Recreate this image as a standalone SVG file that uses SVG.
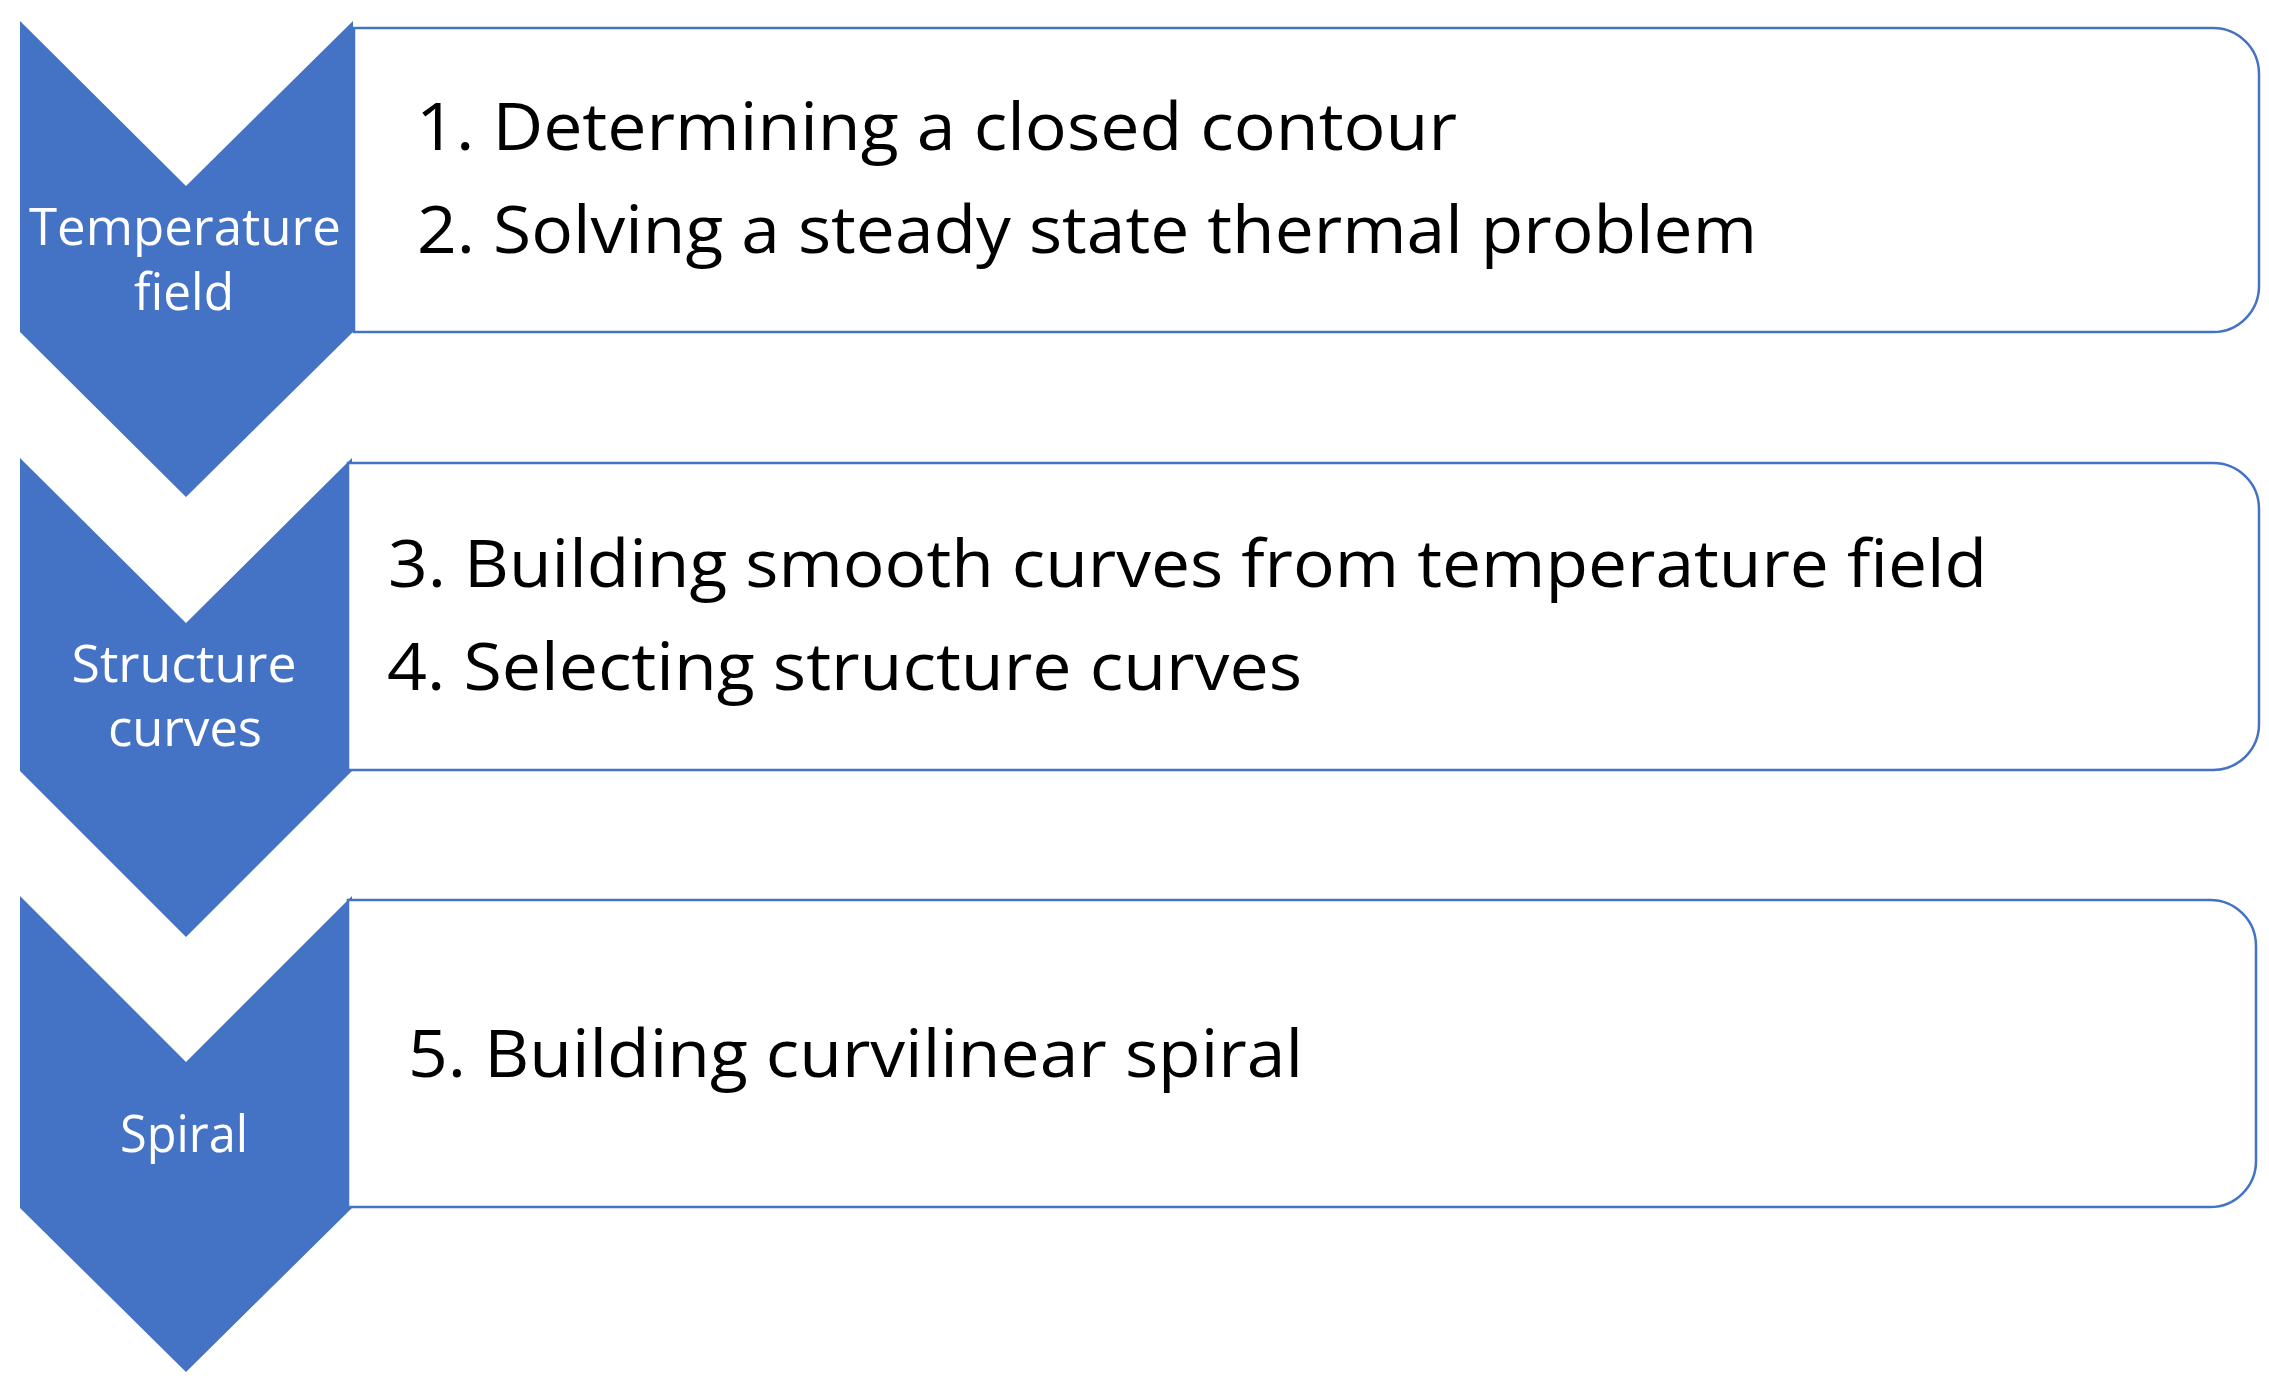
<svg xmlns="http://www.w3.org/2000/svg" width="2269" height="1390" viewBox="0 0 2269 1390">
<style>
.chev{fill:#4472C4;}
.box{fill:#FFFFFF;stroke:#4472C4;stroke-width:2.5;}
.lbl{font-family:"Open Sans","Liberation Sans",sans-serif;font-size:52px;fill:#FFFFFF;text-anchor:middle;}
.txt{font-family:"Open Sans","Liberation Sans",sans-serif;font-size:65px;fill:#000000;}
</style>
<rect x="0" y="0" width="2269" height="1390" fill="#FFFFFF"/>
<g id="step1">
<polygon class="chev" points="20,21 186,186 353,21 353,332 186,497 20,332"/>
<path class="box" d="M354,28 H2213 A46,46 0 0 1 2259,74 V286 A46,46 0 0 1 2213,332 H354 Z"/>
<text class="lbl" x="185" y="245" textLength="312" lengthAdjust="spacingAndGlyphs">Temperature</text>
<text class="lbl" x="184" y="310" textLength="100" lengthAdjust="spacingAndGlyphs">field</text>
<text class="txt" x="416" y="150" textLength="1041" lengthAdjust="spacingAndGlyphs">1. Determining a closed contour</text>
<text class="txt" x="417" y="253" textLength="1340" lengthAdjust="spacingAndGlyphs">2. Solving a steady state thermal problem</text>
</g>
<g id="step2">
<polygon class="chev" points="20,458 186,623 352,458 352,771 186,937 20,771"/>
<path class="box" d="M348,463 H2213 A46,46 0 0 1 2259,509 V724 A46,46 0 0 1 2213,770 H348 Z"/>
<text class="lbl" x="184" y="682" textLength="225" lengthAdjust="spacingAndGlyphs">Structure</text>
<text class="lbl" x="185" y="746" textLength="154" lengthAdjust="spacingAndGlyphs">curves</text>
<text class="txt" x="388" y="587" textLength="1599" lengthAdjust="spacingAndGlyphs">3. Building smooth curves from temperature field</text>
<text class="txt" x="387" y="690" textLength="915" lengthAdjust="spacingAndGlyphs">4. Selecting structure curves</text>
</g>
<g id="step3">
<polygon class="chev" points="20,896 186,1062 352,896 352,1208 186,1372 20,1208"/>
<path class="box" d="M348,900 H2210 A46,46 0 0 1 2256,946 V1161 A46,46 0 0 1 2210,1207 H348 Z"/>
<text class="lbl" x="184" y="1152" textLength="128" lengthAdjust="spacingAndGlyphs">Spiral</text>
<text class="txt" x="408" y="1077" textLength="895" lengthAdjust="spacingAndGlyphs">5. Building curvilinear spiral</text>
</g>
<g id="connectors"></g>
</svg>
